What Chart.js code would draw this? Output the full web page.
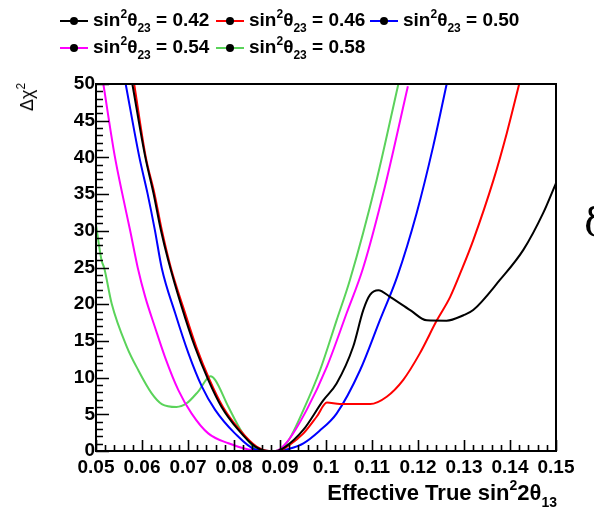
<!DOCTYPE html>
<html>
<head>
<meta charset="utf-8">
<script src="https://cdn.jsdelivr.net/npm/chart.js@4/dist/chart.umd.min.js"></script>
<style>
  html, body { margin: 0; padding: 0; background: #fff; }
  #wrap { position: relative; width: 594px; height: 512px; overflow: hidden; font-family: "Liberation Sans", Arial, sans-serif; }
  canvas { position: absolute; left: 0; top: 0; }
  .item { position: absolute; height: 20px; line-height: 20px; font-size: 19px; font-weight: bold; white-space: nowrap; }
  .mark { position: absolute; left: 0; top: 10px; width: 28px; height: 2px; }
  .mark i { position: absolute; left: 10px; top: -3px; width: 8px; height: 8px; border-radius: 50%; background: #000; }
  .item span.t { position: absolute; left: 33px; top: 0; }
  sup, sub { font-size: 12px; line-height: 0; position: relative; vertical-align: baseline; }
  sup { top: -8px; }
  sub { top: 6px; }
  #xtitle { position: absolute; right: 37px; top: 481px; font-size: 22px; font-weight: bold; white-space: nowrap; line-height: 24px; }
  #xtitle sup { font-size: 14px; top: -10px; }
  #xtitle sub { font-size: 14px; top: 7px; }
  #ytitle { position: absolute; left: 27px; top: 97px; font-size: 18px; white-space: nowrap; line-height: 20px; transform: translate(-50%, -50%) rotate(-90deg); }
  #cut { position: absolute; left: 584px; top: 200px; font-family: "DejaVu Serif", serif; font-size: 40px; line-height: 44px; }
</style>
</head>
<body>
<div id="wrap">
  <canvas id="chi2" width="594" height="512"></canvas>
  <div id="legend"></div>
  <div id="xtitle">Effective True sin<sup>2</sup>2θ<sub>13</sub></div>
  <div id="ytitle">Δχ<sup>2</sup></div>
  <div id="cut">δ</div>
</div>
<script>
// Δχ² vs effective true sin²2θ13, one curve per sin²θ23

const labels42 = [0.0579, 0.0607, 0.0625, 0.0641, 0.0657, 0.0686, 0.0715, 0.0744, 0.0773, 0.0809, 0.0846, 0.0875, 0.089, 0.091, 0.0951, 0.0994, 0.1023, 0.1059, 0.1081, 0.1096, 0.1114, 0.1139, 0.1183, 0.1219, 0.1262, 0.1299, 0.132, 0.1378, 0.1429, 0.1472, 0.15];
const chi42    = [50, 40.1, 35.1, 30.1, 26, 19.7, 14.2, 9.7, 6.0, 2.9, 0.6, 0, 0, 0.5, 2.9, 6.9, 9.2, 14.2, 19.2, 21.3, 21.9, 21.0, 19.2, 17.8, 17.75, 18.5, 19.2, 23.3, 27.4, 32.4, 36.5];

const labels46 = [0.0583, 0.0608, 0.0627, 0.0643, 0.0663, 0.069, 0.0718, 0.0747, 0.0776, 0.0812, 0.0849, 0.0878, 0.0895, 0.092, 0.0951, 0.098, 0.1002, 0.103, 0.1096, 0.1132, 0.1168, 0.1204, 0.1241, 0.127, 0.1295, 0.132, 0.1364, 0.1393, 0.142];
const chi46    = [50, 40.1, 35.1, 30.1, 24.9, 19.5, 14.2, 9.7, 6.0, 2.9, 0.6, 0, 0, 0.8, 2.4, 4.7, 6.6, 6.4, 6.4, 7.4, 9.7, 13.3, 17.8, 21.0, 24.7, 28.7, 36.9, 43.3, 50];

const labels50 = [0.05645, 0.0594, 0.0612, 0.0628, 0.0643, 0.0672, 0.0701, 0.073, 0.0759, 0.0802, 0.0846, 0.0875, 0.0895, 0.092, 0.0951, 0.0985, 0.1023, 0.1074, 0.1117, 0.1155, 0.1197, 0.1233, 0.1262];
const chi50    = [50, 40.1, 35.1, 30.1, 24.9, 18.8, 13.3, 8.8, 5.6, 2.4, 0.2, 0, 0, 0.3, 1.05, 2.7, 5.1, 11.0, 17.8, 23.8, 32.4, 41.5, 49.9];

const labels54 = [0.0516, 0.0541, 0.0557, 0.0574, 0.0591, 0.0607, 0.0628, 0.065, 0.0679, 0.0708, 0.0744, 0.0788, 0.0831, 0.086, 0.089, 0.0915, 0.0958, 0.1002, 0.1045, 0.1081, 0.1128, 0.1178];
const chi54    = [50, 40.1, 35.1, 30.1, 24.9, 21.0, 16.9, 12.8, 8.3, 5.1, 2.4, 1.05, 0.2, 0, 0, 1.2, 5.6, 11.5, 18.8, 25, 36.0, 49.7];

const labels58 = [0.05, 0.0512, 0.0518, 0.0534, 0.0567, 0.0592, 0.0621, 0.0643, 0.0675, 0.0697, 0.0722, 0.0749, 0.0759, 0.0788, 0.0817, 0.0846, 0.087, 0.0896, 0.092, 0.0951, 0.0987, 0.1023, 0.1052, 0.111, 0.1157];
const chi58    = [30.8, 26.0, 24.9, 20.1, 14.2, 11.0, 7.86, 6.4, 6.0, 6.5, 8.1, 10.2, 9.7, 6.0, 2.6, 0.37, 0, 0, 1.6, 5.6, 11.0, 17.8, 23.3, 36.9, 49.9];

const seriesNames  = ["0.42", "0.46", "0.50", "0.54", "0.58"];
const seriesColors = ["#000000", "#ff0000", "#0000ff", "#ff00ff", "#5ad35a"];
const xTicks = [0.05, 0.06, 0.07, 0.08, 0.09, 0.1, 0.11, 0.12, 0.13, 0.14, 0.15];
const yTicks = [0, 5, 10, 15, 20, 25, 30, 35, 40, 45, 50];

const allX = [labels42, labels46, labels50, labels54, labels58];
const allY = [chi42, chi46, chi50, chi54, chi58];

// legend (HTML so the sub/superscripts stay real text)
const legendPos = [[60, 10], [216, 10], [370, 10], [60, 37], [216, 37]];
const legend = document.getElementById("legend");
seriesNames.forEach((name, i) => {
  const d = document.createElement("div");
  d.className = "item";
  d.style.left = legendPos[i][0] + "px";
  d.style.top = legendPos[i][1] + "px";
  d.innerHTML = `<span class="mark" style="background:${seriesColors[i]}"><i></i></span>` +
    `<span class="t">sin<sup>2</sup>θ<sub>23</sub> = ${name}</span>`;
  legend.appendChild(d);
});

// ROOT-style frame with inward major/minor ticks
const frameTicks = {
  id: "frameTicks",
  afterDraw(chart) {
    const { ctx, chartArea: { left, top, right, bottom }, scales: { x, y } } = chart;
    ctx.save();
    ctx.strokeStyle = "#000";
    ctx.lineWidth = 1.6;
    ctx.beginPath();
    for (let i = 0; i <= 50; i++) {
      const px = Math.round(x.getPixelForValue(0.05 + i * 0.002)) + 0.5;
      const len = i % 5 === 0 ? 11 : 6;
      ctx.moveTo(px, bottom); ctx.lineTo(px, bottom - len);
    }
    for (let i = 0; i <= 50; i++) {
      const py = Math.round(y.getPixelForValue(i)) + 0.5;
      const len = i % 5 === 0 ? 13 : 7;
      ctx.moveTo(left, py); ctx.lineTo(left + len, py);
    }
    ctx.stroke();
    ctx.lineWidth = 2;
    ctx.strokeRect(left, top, right - left, bottom - top);
    ctx.restore();
  }
};

const ctx = document.getElementById("chi2").getContext("2d");
new Chart(ctx, {
  type: "line",
  plugins: [frameTicks],
  data: {
    datasets: seriesNames.map((name, i) => ({
      label: "sin²θ23 = " + name,
      data: allX[i].map((v, j) => ({ x: v, y: allY[i][j] })),
      borderColor: seriesColors[i],
      backgroundColor: seriesColors[i],
      borderWidth: 2,
      pointRadius: 0,
      cubicInterpolationMode: "monotone",
      order: i === 0 ? 0 : i
    }))
  },
  options: {
    responsive: false,
    animation: false,
    layout: { padding: { left: 0, top: 84, right: 38, bottom: 0 } },
    plugins: { legend: { display: false }, tooltip: { enabled: false } },
    scales: {
      x: {
        type: "linear", min: 0.05, max: 0.15,
        afterFit: s => { s.height = 61; },
        afterBuildTicks: s => { s.ticks = xTicks.map(v => ({ value: v })); },
        grid: { display: false, drawTicks: false },
        border: { display: false },
        ticks: {
          color: "#000", padding: 5, maxRotation: 0, autoSkip: false,
          font: { family: "Liberation Sans", size: 19, weight: "bold" },
          callback: v => String(+v.toFixed(3))
        }
      },
      y: {
        min: 0, max: 50,
        afterFit: s => { s.width = 96; },
        afterBuildTicks: s => { s.ticks = yTicks.map(v => ({ value: v })); },
        grid: { display: false, drawTicks: false },
        border: { display: false },
        ticks: {
          color: "#000", padding: 1,
          font: { family: "Liberation Sans", size: 19, weight: "bold" }
        }
      }
    }
  }
});
</script>
</body>
</html>
